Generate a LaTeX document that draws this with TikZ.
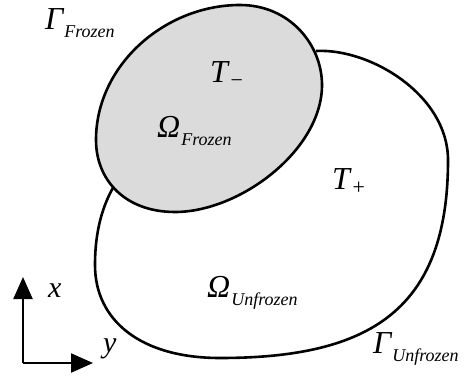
\documentclass[tikz,border=0pt]{standalone}
\usepackage{fontspec}
\setmainfont{Liberation Serif}
\usetikzlibrary{arrows.meta}
\newcommand{\symsub}[3][-8pt]{{\fontsize{32}{32}\selectfont\itshape #2}\kern1pt\raisebox{#1}{\fontsize{18}{18}\selectfont\itshape #3}}
\begin{document}
\begin{tikzpicture}[
  x=1pt, y=-1pt,
  outline/.style={line width=2.6pt, black},
  frozen/.style={outline, fill=gray!28},
  axis/.style={line width=2.2pt, -{Triangle[length=22pt,width=19pt]}},
  every node/.style={inner sep=0pt, anchor=base west}
]
  \useasboundingbox (0,0) rectangle (465,379);

  \draw[outline] (316,51) .. controls (370,48) and (448,95) .. (448,160)
    .. controls (448,310) and (370,358) .. (220,358)
    .. controls (140,358) and (95,320) .. (95,265)
    .. controls (95,230) and (103,205) .. (114,186);

  \draw[frozen] (240,5) .. controls (290,5) and (322,45) .. (322,85)
    .. controls (322,150) and (240,212) .. (175,212)
    .. controls (125,212) and (96,180) .. (96,140)
    .. controls (96,65) and (165,5) .. (240,5) -- cycle;

  \node (gfrozen) at (45,30) {\symsub{Γ}{Frozen}};
  \node (tminus) at (210,83) {\symsub[-5pt]{T}{\fontsize{22}{22}\selectfont −}};
  \node (ofrozen) at (157,138) {\symsub{Ω}{Frozen}};
  \node (tplus) at (332,190) {\symsub[-5pt]{T}{\fontsize{22}{22}\selectfont +}};
  \node (ounfrozen) at (207,297) {\symsub{Ω}{Unfrozen}};
  \node (gunfrozen) at (373,353) {\symsub{Γ}{Unfrozen}};

  \coordinate (origin) at (23,363);
  \coordinate (xtip) at (23,277);
  \coordinate (ytip) at (93,363);
  \draw[axis] (origin) -- (xtip);
  \draw[axis] (origin) -- (ytip);
  \node (xlabel) at (48,297) {\fontsize{30}{30}\selectfont\itshape x};
  \node (ylabel) at (103,352) {\fontsize{30}{30}\selectfont\itshape y};

\end{tikzpicture}
\end{document}
